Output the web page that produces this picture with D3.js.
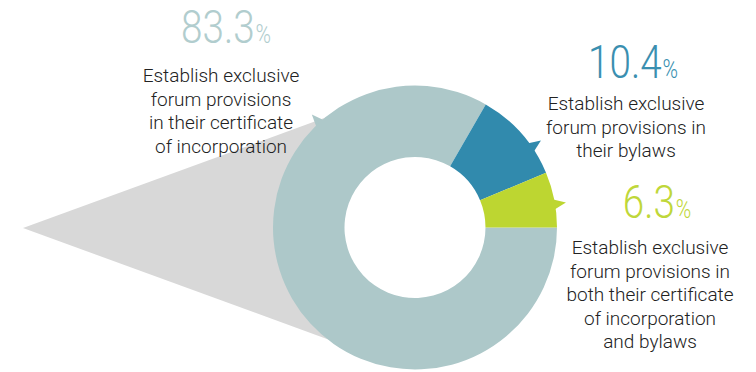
<!DOCTYPE html>
<html>
<head>
<meta charset="utf-8">
<script src="https://cdn.jsdelivr.net/npm/d3@7/dist/d3.min.js"></script>
<style>
  html, body { margin: 0; padding: 0; background: #fff; }
  svg { display: block; }
</style>
</head>
<body>
<svg id="chart" width="756" height="372"></svg>
<script>
// ---- data ----
const categories = [
  "Establish exclusive forum provisions in their certificate of incorporation",
  "Establish exclusive forum provisions in their bylaws",
  "Establish exclusive forum provisions in both their certificate of incorporation and bylaws"
];
const values = [83.3, 10.4, 6.3];
const valueLabels = ["83.3", "10.4", "6.3"];
const labelLines = [
  ["Establish exclusive", "forum provisions", "in their certificate", "of incorporation"],
  ["Establish exclusive", "forum provisions in", "their bylaws"],
  ["Establish exclusive", "forum provisions in", "both their certificate", "of incorporation", "and bylaws"]
];

// ---- layout / style ----
const colors = ["#adc8c9", "#318aad", "#bdd631"];
const numColors = ["#b1cdce", "#3a8fb0", "#bfd73a"];
const cx = 415, cy = 227.5, rOuter = 142, rInner = 70.5;
const pointerDeg = [132.4, 34.6, 9.4];   // counter-clockwise from 3 o'clock
const labelPos = [
  { nx: 226, ny: 42.5, tx: 221, ty: 82 },
  { nx: 633, ny: 77.5, tx: 626, ty: 110 },
  { nx: 657, ny: 218, tx: 650, ty: 254 }
];
const lineH = 23.5;

const svg = d3.select("#chart");

// big callout triangle
const tip = [23, 228];
const slope = 0.365;
function hitCircle(sign) {
  for (let x = tip[0]; x < cx; x += 0.25) {
    const y = tip[1] + sign * slope * (x - tip[0]);
    if (Math.hypot(x - cx, y - cy) <= rOuter - 2) return [x, y];
  }
  return [cx, cy];
}
const p1 = hitCircle(-1), p2 = hitCircle(1);
svg.append("path")
  .attr("d", d3.line()([tip, p1, p2]) + "Z")
  .attr("fill", "#d8d8d8");

// pie
const pie = d3.pie().sort(null).value(d => d)
  .startAngle(Math.PI / 2).endAngle(Math.PI / 2 + 2 * Math.PI);
const arcs = pie(values);
const arc = d3.arc().innerRadius(rInner).outerRadius(rOuter);

const g = svg.append("g").attr("transform", `translate(${cx},${cy})`);

// pointers
pointerDeg.forEach((deg, i) => {
  const a = deg * Math.PI / 180, w = 2.4 * Math.PI / 180;
  const pt = (ang, r) => [r * Math.cos(ang), -r * Math.sin(ang)];
  g.append("path")
    .attr("d", d3.line()([pt(a - w, rOuter - 3), pt(a, rOuter + 11), pt(a + w, rOuter - 3)]) + "Z")
    .attr("fill", colors[i]);
});

g.selectAll("path.slice").data(arcs).join("path")
  .attr("class", "slice")
  .attr("d", arc)
  .attr("fill", (d, i) => colors[i]);

// labels
labelPos.forEach((p, i) => {
  const t = svg.append("text")
    .attr("transform", `translate(${p.nx},${p.ny}) scale(0.84,1)`)
    .attr("text-anchor", "middle")
    .attr("font-family", "Roboto, 'Liberation Sans', sans-serif")
    .attr("font-weight", 300)
    .attr("fill", numColors[i]);
  t.append("tspan").attr("font-size", 46).text(valueLabels[i]);
  t.append("tspan").attr("font-size", 25).attr("dx", 1).text("%");

  const tl = svg.append("text")
    .attr("text-anchor", "middle")
    .attr("font-family", "Roboto, 'Liberation Sans', sans-serif")
    .attr("font-weight", 300)
    .attr("font-size", 19)
    .attr("fill", "#222");
  labelLines[i].forEach((line, j) => {
    tl.append("tspan").attr("x", p.tx).attr("y", p.ty + j * lineH).text(line);
  });
});
</script>
</body>
</html>
